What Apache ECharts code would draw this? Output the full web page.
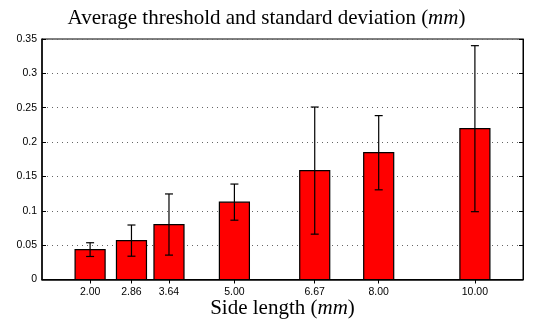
<!DOCTYPE html>
<html>
<head>
<meta charset="utf-8">
<script src="https://cdn.jsdelivr.net/npm/echarts@6/dist/echarts.min.js"></script>
<style>html,body{margin:0;padding:0;background:#fff;}#c{width:533px;height:323px;}</style>
</head>
<body>
<div id="c"></div>
<script>
const sideLengths = [2.00, 2.86, 3.64, 5.00, 6.67, 8.00, 10.00];
const meanThreshold = [0.0435, 0.0566, 0.0800, 0.1126, 0.1585, 0.1845, 0.2195];
const stdDeviation = [0.0100, 0.0227, 0.0445, 0.0263, 0.0925, 0.0540, 0.1208];
const yTicks = [0, 0.05, 0.1, 0.15, 0.2, 0.25, 0.3, 0.35];

const barWidthUnits = 0.624;
const chart = echarts.init(document.getElementById('c'));
const barData = sideLengths.map((x, i) => [x, meanThreshold[i]]);
const errData = sideLengths.map((x, i) => [x, meanThreshold[i] - stdDeviation[i], meanThreshold[i] + stdDeviation[i]]);

const serif = 'Liberation Serif';
const sans = 'Liberation Sans';

chart.setOption({
  animation: false,
  backgroundColor: '#fff',
  title: {
    text: 'Average threshold and standard deviation ({i|mm})',
    left: 'center', top: 3,
    textStyle: {
      fontFamily: serif, fontSize: 21, fontWeight: 'normal', color: '#000',
      rich: { i: { fontFamily: serif, fontSize: 21, fontStyle: 'italic', color: '#000' } }
    }
  },
  grid: { left: 42, right: 10, top: 39, bottom: 43.5, containLabel: false, outerBoundsMode: 'none', show: true, borderColor: '#000', borderWidth: 1 },
  xAxis: [{
    type: 'value', min: 1, max: 11, position: 'bottom',
    name: 'Side length ({i|mm})', nameLocation: 'middle', nameGap: 18, nameMoveOverlap: false,
    nameTextStyle: {
      fontFamily: serif, fontSize: 21, color: '#000',
      rich: { i: { fontFamily: serif, fontSize: 21, fontStyle: 'italic', color: '#000' } }
    },
    axisLine: { show: true, lineStyle: { color: '#000', width: 1.5 } },
    axisTick: { show: true, inside: true, length: 4, customValues: sideLengths, lineStyle: { color: '#000' } },
    axisLabel: { customValues: sideLengths, formatter: v => v.toFixed(2), fontFamily: sans, fontSize: 10.5, color: '#000', margin: 7 },
    splitLine: { show: false }
  }, {
    type: 'value', min: 1, max: 11, position: 'top',
    axisLine: { show: true, lineStyle: { color: '#000' } },
    axisTick: { show: true, inside: true, length: 4, customValues: sideLengths, lineStyle: { color: '#000' } },
    axisLabel: { show: false },
    splitLine: { show: false }
  }],
  yAxis: [{
    type: 'value', min: 0, max: 0.35, interval: 0.05, position: 'left',
    axisLine: { show: true, lineStyle: { color: '#000', width: 1.5 } },
    axisTick: { show: true, inside: true, length: 4, lineStyle: { color: '#000' } },
    axisLabel: { formatter: v => String(Math.round(v * 100) / 100), fontFamily: sans, fontSize: 10.5, color: '#000', margin: 5 },
    splitLine: { show: true, lineStyle: { color: '#666', type: [1, 4], width: 1 } }
  }, {
    type: 'value', min: 0, max: 0.35, interval: 0.05, position: 'right',
    axisLine: { show: true, lineStyle: { color: '#000' } },
    axisTick: { show: true, inside: true, length: 4, lineStyle: { color: '#000' } },
    axisLabel: { show: false },
    splitLine: { show: false }
  }],
  series: [{
    type: 'custom',
    xAxisIndex: 0, yAxisIndex: 0,
    data: barData,
    renderItem: function (params, api) {
      const x = api.value(0), y = api.value(1);
      const p1 = api.coord([x - barWidthUnits / 2, y]);
      const p2 = api.coord([x + barWidthUnits / 2, 0]);
      return {
        type: 'rect',
        shape: { x: p1[0], y: p1[1], width: p2[0] - p1[0], height: p2[1] - p1[1] },
        style: { fill: '#ff0000', stroke: '#000', lineWidth: 1.2 }
      };
    },
    z: 2
  }, {
    type: 'custom',
    xAxisIndex: 0, yAxisIndex: 0,
    data: errData,
    renderItem: function (params, api) {
      const x = api.value(0);
      const lo = api.coord([x, api.value(1)]);
      const hi = api.coord([x, api.value(2)]);
      const cap = 4;
      const st = { stroke: '#000', lineWidth: 1.2 };
      return {
        type: 'group',
        children: [
          { type: 'line', shape: { x1: lo[0], y1: lo[1], x2: hi[0], y2: hi[1] }, style: st },
          { type: 'line', shape: { x1: lo[0] - cap, y1: lo[1], x2: lo[0] + cap, y2: lo[1] }, style: st },
          { type: 'line', shape: { x1: hi[0] - cap, y1: hi[1], x2: hi[0] + cap, y2: hi[1] }, style: st }
        ]
      };
    },
    z: 3
  }]
});
</script>
</body>
</html>
